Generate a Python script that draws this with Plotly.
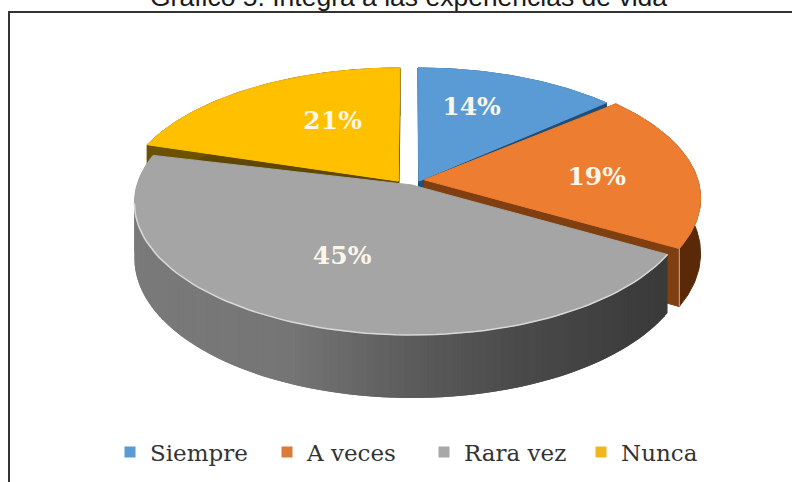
import numpy as np
import plotly.graph_objects as go

categories = ["Siempre", "A veces", "Rara vez", "Nunca"]
values = [14, 19, 45, 21]
top_colors = ["#5B9BD5", "#ED7D31", "#A5A5A5", "#FFC000"]
wall_colors = ["#1F4E79", "#5A2A08", "#4A4A4A", "#6B5200"]
cut_colors = ["#1F4E79", "#7F3F10", "#4A4A4A", "#5F4700"]
legend_colors = ["#5B9BD5", "#DB7B38", "#A8A8A8", "#F0B81C"]
title_text = "Gráfico 5. Integra a las experiencias de vida"

# Perspective model of the disc
X0, Y0, A, B, K, D = 412, 185, 275, 129.6, 0.136, 54.4
explode = [(0.025, 0.03), (0.045, 0.04), (0.0, 0.0), (-0.05, 0.03)]
trim = [(0, -2.5), (-1, 0), (0, 0), (3.5, 0)]          # degrees on slice edges
label_r = [0.677, 0.635, 0.55, 0.585]
label_da = [-6, 1.5, 3.7, 10]
LABEL_DY = 4

W, H = 792, 482
total = sum(values)
edges = np.cumsum([0] + values) / total * 360


def project(u, v, z=0.0):
    u, v = np.asarray(u, float), np.asarray(v, float)
    w = 1 + K * v
    return X0 + A * u / w, Y0 - B * v / w + D * z / w


def arc(a0, a1, off, z=0.0, r=1.0, n=80):
    t = np.radians(np.linspace(a0, a1, n))
    return project(r * np.sin(t) + off[0], r * np.cos(t) + off[1], z)


def poly(fig, x, y, color, lw=1):
    fig.add_trace(go.Scatter(
        x=list(x), y=list(y), mode="lines", fill="toself", fillcolor=color,
        line=dict(color=color, width=lw), hoverinfo="skip", showlegend=False))


def lerp_gray(px):
    xs = [132, 300, 420, 530, 665]
    g = [122, 117, 92, 74, 58]
    v = float(np.interp(px, xs, g))
    return f"rgb({v:.0f},{v:.0f},{v:.0f})"


fig = go.Figure()


def slice_span(i):
    return edges[i] + trim[i][0], edges[i + 1] + trim[i][1]


def draw_top(i):
    a0, a1 = slice_span(i)
    off = explode[i]
    ax, ay = arc(a0, a1, off)
    cx, cy = project(off[0], off[1])
    poly(fig, np.r_[cx, ax, cx], np.r_[cy, ay, cy], top_colors[i])


def draw_walls(i):
    a0, a1 = slice_span(i)
    off = explode[i]
    cx, cy = project(off[0], off[1])
    cxb, cyb = project(off[0], off[1], 1)
    for ang in (a0, a1):
        ex, ey = arc(ang, ang, off, n=1)
        exb, eyb = arc(ang, ang, off, z=1, n=1)
        poly(fig, [cx, ex[0], exb[0], cxb, cx], [cy, ey[0], eyb[0], cyb, cy], cut_colors[i])
    tx, ty = arc(a0, a1, off)
    bx, by = arc(a0, a1, off, z=1)
    poly(fig, np.r_[tx, bx[::-1]], np.r_[ty, by[::-1]], wall_colors[i])


# Back slices first, gray front slice last
for i in (3, 0, 1):
    draw_walls(i)
    draw_top(i)

# Tip edge highlight of the orange slice
tipx, tipy = arc(edges[2], edges[2], explode[1], n=1)
tipbx, tipby = arc(edges[2], edges[2], explode[1], z=1, n=1)
fig.add_trace(go.Scatter(x=[tipx[0], tipbx[0]], y=[tipy[0], tipby[0]], mode="lines",
                         line=dict(color="#D9B79E", width=1), hoverinfo="skip", showlegend=False))

# Gray side wall as shaded strips (each overlaps the next so no seams show)
n_strips = 120
a = np.linspace(edges[2], edges[3], n_strips + 1)
for k in range(n_strips - 1, -1, -1):
    a_end = a[min(k + 2, n_strips)]
    tx, ty = arc(a[k], a_end, explode[2], n=3)
    bx, by = arc(a[k], a_end, explode[2], z=1, n=3)
    poly(fig, np.r_[tx, bx[::-1]], np.r_[ty, by[::-1]], lerp_gray(tx[0]), lw=0)

draw_top(2)
# light rim along the front of the gray slice
rx, ry = arc(edges[2], 262, explode[2])
fig.add_trace(go.Scatter(x=rx, y=ry, mode="lines", line=dict(color="#D8D8D8", width=1.5),
                         hoverinfo="skip", showlegend=False))

# Data labels
for i in range(4):
    mid = np.radians((sum(slice_span(i))) / 2 + label_da[i])
    lx, ly = project(label_r[i] * np.sin(mid) + explode[i][0], label_r[i] * np.cos(mid) + explode[i][1])
    fig.add_trace(go.Scatter(
        x=[float(lx)], y=[float(ly) + LABEL_DY], mode="text", text=[f"{values[i]}%"], textposition="middle center",
        textfont=dict(family="DejaVu Serif", size=25, color="#FBF6EA", weight="bold"),
        hoverinfo="skip", showlegend=False))

# Legend entries
for c, col in zip(categories, legend_colors):
    fig.add_trace(go.Scatter(x=[None], y=[None], mode="markers", name=c,
                             marker=dict(symbol="square", size=11, color=col)))

frame = dict(color="#333333", width=2)
fig.update_layout(
    width=W, height=H, margin=dict(l=0, r=0, t=0, b=0),
    paper_bgcolor="white", plot_bgcolor="white",
    xaxis=dict(range=[0, W], visible=False, fixedrange=True),
    yaxis=dict(range=[H, 0], visible=False, fixedrange=True),
    legend=dict(orientation="h", x=110 / W, xanchor="left", y=1 - 452 / H, yanchor="middle",
                entrywidth=112, entrywidthmode="pixels", bgcolor="rgba(0,0,0,0)",
                font=dict(family="DejaVu Serif", size=23, color="#333333"), traceorder="normal"),
    annotations=[dict(text=title_text, xref="paper", yref="paper", x=408 / W, y=1 - 14 / H,
                      xanchor="center", yanchor="bottom", showarrow=False,
                      font=dict(family="Liberation Sans", size=26.5, color="#1a1a1a"))],
    shapes=[
        dict(type="line", xref="paper", yref="paper", x0=8 / W, x1=1, y0=1 - 12 / H, y1=1 - 12 / H, line=frame),
        dict(type="line", xref="paper", yref="paper", x0=9 / W, x1=9 / W, y0=0, y1=1 - 12 / H, line=frame),
    ],
    showlegend=True,
)
fig.write_html("out.html", config={"displayModeBar": False},
               post_script="document.body.style.margin='0';document.body.style.overflow='hidden';")
